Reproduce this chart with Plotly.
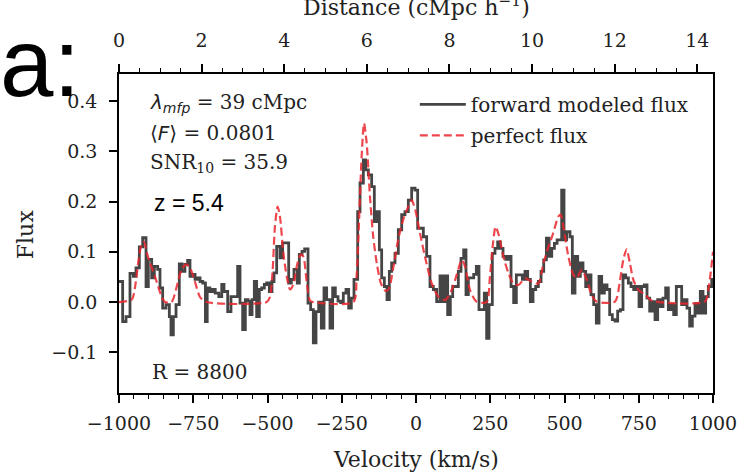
import plotly.graph_objects as go

# ---------------- data ----------------
# forward modeled flux: step function (left bin edges in km/s, flux)
vel_fwd = [-1000, -987.7, -976.4, -963, -951.7, -942.8, -931.5, -920.3, -909, -901.2,
           -890, -881, -869.8, -862, -853, -841.8, -830.5, -825, -817, -808,
           -797, -788, -778, -769, -761, -752, -744, -735, -727, -718,
           -709, -703, -694, -685, -676, -664, -654, -646.5, -634, -623,
           -612, -600.5, -592.6, -583.6, -574.6, -565.7, -559, -552, -544.3, -536.5,
           -527.5, -519.7, -510.7, -502.8, -493.8, -484.9, -478.1, -469.1, -457.9, -449,
           -428.7, -419.8, -410.8, -399.6, -392.8, -383.8, -374.9, -363.6, -354.7, -345.7,
           -336.7, -327.7, -318.8, -309.8, -300.8, -289.6, -280.6, -271.6, -262.6, -253.7,
           -244.7, -235.7, -226.7, -217.8, -208.8, -196.4, -188.5, -177.3, -169.5, -160.5,
           -149.3, -140.3, -132.4, -123.4, -115.6, -106.6, -97.6, -89.8, -81.9, -70.7,
           -59.5, -48.2, -37, -25.8, -14.6, -3.4, 5.6, 24.7, 35.9, 47.1,
           58.4, 69.6, 80.8, 88.7, 97.6, 106.6, 115.6, 123.5, 142.5, 151.5,
           160.5, 168.3, 176.2, 194.2, 203.1, 212.1, 230.1, 237.9, 245.8, 257,
           266, 275, 284, 293, 302, 311, 320, 328.8, 337.8, 358,
           367, 376, 385, 394, 403, 412, 421, 430, 439, 448,
           457, 466, 475, 490.5, 498.3, 507.3, 518.5, 526.4, 535.4, 544.4,
           553.3, 562.3, 571.3, 580.3, 589.2, 598.2, 607.2, 616.2, 625.2, 634.1,
           643.1, 652.1, 661, 670, 679, 688, 697, 706, 715, 724,
           733, 742, 750.9, 759.8, 768.8, 777.8, 786.8, 795.8, 804.7, 813.7,
           822.7, 831.7, 840.6, 849.6, 858.6, 867.6, 876.5, 885.5, 894.5, 903.5,
           912.5, 921.4, 930.4, 939.4, 948.4, 957.3, 966.3, 975.3, 984.3, 995.6,
           1000]
flux_fwd = [0.041, -0.039, -0.029, 0.057, 0.051, 0.068, 0.11, 0.128, 0.031, 0.085,
            0.048, 0.071, 0.065, 0.028, -0.012, -0.005, -0.029, -0.065, -0.029, -0.005,
            0.076, 0.061, 0.075, 0.083, 0.051, 0.055, 0.045, 0.048, 0.041, 0.038,
            -0.039, 0.028, 0.021, 0.025, 0.018, 0.011, 0.035, 0.021, -0.019, 0.011,
            0.011, 0.071, -0.002, -0.055, 0.005, 0.002, -0.025, 0.005, 0.041, -0.029,
            0.025, 0.028, 0.035, 0.038, 0.021, 0.041, 0.058, 0.111, 0.088, 0.118,
            0.038, 0.045, 0.065, 0.038, 0.095, 0.101, 0.106, -0.002, -0.015, -0.081,
            -0.019, 0.0, -0.052, 0.028, 0.005, -0.052, 0.028, 0.011, 0.002, -0.001,
            0.018, 0.025, -0.012, 0.008, 0.045, 0.18, 0.237, 0.283, 0.263, 0.253,
            0.23, 0.16, 0.18, 0.104, 0.048, 0.031, 0.005, 0.061, 0.078, 0.097,
            0.144, 0.174, 0.18, 0.203, 0.227, 0.223, 0.147, 0.13, 0.091, 0.031,
            0.025, 0.001, 0.052, 0.001, 0.052, -0.025, 0.011, 0.031, 0.061, 0.087,
            0.104, 0.015, 0.048, 0.055, 0.071, -0.015, 0.018, -0.072, -0.005, 0.097,
            0.107, 0.12, 0.107, 0.091, 0.085, 0.091, 0.031, -0.001, 0.054, 0.045,
            0.061, 0.045, 0.001, 0.025, 0.031, 0.041, 0.061, 0.084, 0.127, 0.091,
            0.107, 0.117, 0.124, 0.223, 0.124, 0.14, 0.13, 0.018, 0.091, 0.051,
            0.078, 0.061, 0.031, 0.054, 0.015, -0.005, -0.042, 0.051, 0.018, 0.034,
            0.025, -0.025, -0.035, -0.038, -0.018, -0.015, 0.054, 0.048, 0.038, 0.031,
            0.025, 0.031, -0.009, 0.031, 0.034, 0.008, -0.018, 0.001, -0.035, 0.005,
            -0.009, 0.008, 0.028, -0.015, -0.005, -0.025, 0.031, 0.031, -0.005, 0.005,
            -0.012, -0.048, -0.028, -0.003, -0.022, 0.021, -0.022, 0.011, 0.031, 0.045,
            0.045]

# perfect flux (smooth curve)
vel_perf = [-1000, -957, -946, -935, -924, -916, -907, -896, -884, -873,
            -856, -845, -823, -806, -789, -774, -761, -744, -727, -705,
            -503, -492, -483, -475, -466, -458, -447, -435, -424, -413,
            -400, -388, -379, -368, -357, -346, -211, -200, -192, -183,
            -175, -166, -155, -144, -132, -118, -102, -91, -76, -59,
            -43, -26, -15, -3, 13.5, 30, 53, 75, 98, 120,
            137, 154, 165, 182, 204, 238, 249, 258, 268, 279,
            294, 311, 328, 345, 367, 390, 412, 429, 446, 462,
            479, 487, 498, 513, 530, 541, 558, 575, 591, 608,
            670, 687, 698, 709, 720, 732, 749, 771, 793, 973,
            984, 992, 1000]
flux_perf = [0, 0.005, 0.03, 0.08, 0.115, 0.12, 0.1, 0.078, 0.06, 0.04,
             0.01, 0, 0, 0.03, 0.065, 0.075, 0.068, 0.04, 0.01, 0,
             0, 0.01, 0.06, 0.15, 0.19, 0.17, 0.1, 0.05, 0.025, 0.035,
             0.075, 0.095, 0.09, 0.04, 0.003, 0, 0, 0.051, 0.157, 0.29,
             0.356, 0.316, 0.21, 0.13, 0.077, 0.037, 0.022, 0.027, 0.07, 0.127,
             0.164, 0.19, 0.203, 0.185, 0.137, 0.091, 0.037, 0.011, 0.004, 0.024,
             0.054, 0.084, 0.071, 0.024, 0.001, 0, 0.051, 0.11, 0.15, 0.133,
             0.091, 0.058, 0.037, 0.034, 0.047, 0.041, 0.037, 0.077, 0.11, 0.137,
             0.17, 0.174, 0.144, 0.091, 0.054, 0.048, 0.064, 0.044, 0.015, 0.001,
             0.001, 0.044, 0.084, 0.105, 0.078, 0.044, 0.024, 0.015, 0.003, 0.001,
             0.024, 0.057, 0.1]

vel_ticks = [-1000, -750, -500, -250, 0, 250, 500, 750, 1000]
dist_range = [0, 14.38]
flux_range = [-0.181, 0.454]

assert len(vel_fwd) == len(flux_fwd)
assert len(vel_perf) == len(flux_perf)

SERIF = "DejaVu Serif"
SANS = "Liberation Sans, Arial"

fig = go.Figure()
fig.add_trace(go.Scatter(
    x=vel_fwd, y=flux_fwd, mode="lines", name="forward modeled flux",
    legendgroup="a",
    line=dict(shape="hv", color="#454545", width=2.8)))
fig.add_trace(go.Scatter(
    x=vel_perf, y=flux_perf, mode="lines", name="perfect flux",
    legendgroup="b",
    line=dict(shape="spline", smoothing=0.7, color="rgba(234,38,46,0.85)",
              width=2.2, dash="8px,4px")))
fig.add_trace(go.Scatter(
    x=dist_range, y=[0, 0], xaxis="x2", mode="markers",
    marker=dict(opacity=0), showlegend=False, hoverinfo="skip"))

axis_common = dict(
    showgrid=False, zeroline=False, showline=True, linecolor="black",
    linewidth=1.6, ticks="outside", ticklen=8, tickwidth=1.5,
    tickcolor="black", tickfont=dict(family=SERIF, size=19, color="#222"),
    automargin=False,
)

fig.update_layout(
    width=740, height=475,
    margin=dict(l=119, r=27, t=74, b=82, autoexpand=False),
    paper_bgcolor="white", plot_bgcolor="white",
    xaxis=dict(range=[-1000, 1000], tickvals=vel_ticks,
               minor=dict(dtick=50, tick0=-1000, ticks="outside", ticklen=4,
                          tickwidth=1.2, tickcolor="black"),
               ticklabelstandoff=4, **axis_common),
    xaxis2=dict(range=dist_range, overlaying="x", side="top", tick0=0, dtick=2,
                minor=dict(dtick=0.5, tick0=0, ticks="outside", ticklen=4,
                           tickwidth=1.2, tickcolor="black"),
                ticklabelstandoff=10, **axis_common),
    yaxis=dict(range=flux_range, tick0=0, dtick=0.1, tickformat=".1f",
               mirror=True, ticklabelstandoff=8, **axis_common),
    legend=dict(x=0.498, y=0.966, xanchor="left", yanchor="top",
                font=dict(family=SERIF, size=20, color="#222"),
                bgcolor="rgba(0,0,0,0)", itemwidth=46, tracegroupgap=2),
    showlegend=True,
)

ann_font = dict(family=SERIF, size=20, color="#222")
ital = '<span style="font-family:DejaVu Sans"><i>%s</i></span>'
texts = [
    (ital % "λ" + "<sub>" + ital % "mfp" + "</sub> = 39 cMpc", 0.0488, 0.909),
    ("⟨" + ital % "F" + "⟩ = 0.0801", 0.0488, 0.815),
    ("SNR<sub>10</sub> = 35.9", 0.0488, 0.721),
    ("R = 8800", 0.052, 0.066),
]
for t, x, y in texts:
    fig.add_annotation(text=t, x=x, y=y, xref="paper", yref="paper",
                       xanchor="left", yanchor="middle", showarrow=False,
                       font=ann_font)
fig.add_annotation(text="z = 5.4", x=0.055, y=0.596, xref="paper", yref="paper",
                   xanchor="left", yanchor="middle", showarrow=False,
                   font=dict(family=SANS, size=23, color="black"))
fig.add_annotation(text="Velocity (km/s)", x=0.5, y=-0.21, xref="paper", yref="paper",
                   xanchor="center", yanchor="middle", showarrow=False,
                   font=dict(family=SERIF, size=22, color="#222"))
fig.add_annotation(text="Flux", x=-0.158, y=0.495, xref="paper", yref="paper",
                   xanchor="center", yanchor="middle", showarrow=False, textangle=-90,
                   font=dict(family=SERIF, size=22, color="#222"))
fig.add_annotation(text="Distance (cMpc h<sup>−1</sup>)", x=0.5, y=1.214,
                   xref="paper", yref="paper", xanchor="center", yanchor="middle",
                   showarrow=False, font=dict(family=SERIF, size=22, color="#222"))
fig.add_annotation(text="a:", x=-0.204, y=1.035, xref="paper", yref="paper",
                   xanchor="left", yanchor="middle", showarrow=False,
                   font=dict(family=SANS, size=96, color="black"))

fig.write_html("out.html")
